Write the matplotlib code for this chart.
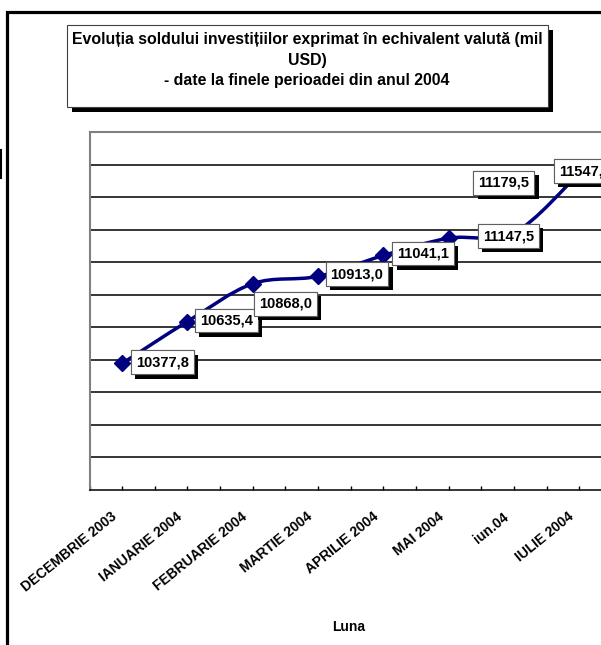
import matplotlib
matplotlib.use("Agg")
import matplotlib.pyplot as plt
import matplotlib.patheffects as pe
from matplotlib.path import Path
from matplotlib.patches import PathPatch, Rectangle
from matplotlib.lines import Line2D
from matplotlib.transforms import ScaledTranslation

plt.rcParams['font.family'] = ['Liberation Sans', 'DejaVu Sans']

months = ['DECEMBRIE 2003', 'IANUARIE 2004', 'FEBRUARIE 2004', 'MARTIE 2004',
          'APRILIE 2004', 'MAI 2004', 'iun.04', 'IULIE 2004']
values = [10377.8, 10635.4, 10868.0, 10913.0, 11041.1, 11147.5, 11179.5, 11547.2]
labels = ['10377,8', '10635,4', '10868,0', '10913,0', '11041,1', '11147,5', '11179,5', '11547,2']
# label box offsets from the point, in pixels
offsets = [(40, 1), (39, 1), (33, -20), (39, 2), (40, 2), (60, 2), (-10, 50), (6, 2)]

title = ("Evoluția soldului investițiilor exprimat în echivalent valută (mil\n"
         "USD)\n- date la finele perioadei din anul 2004")

W, H = 601, 645
fig = plt.figure(figsize=(W / 100, H / 100), dpi=100)
fig.patch.set_facecolor('white')


def px_rect(x, y, w, h, **kw):
    # rectangle given in pixels from the top-left corner
    return Rectangle((x / W, 1 - (y + h) / H), w / W, h / H, transform=fig.transFigure, **kw)


# outer chart frame (cut off at right and bottom)
fig.patches.append(px_rect(6.5, 12, 900, 900, fill=False, edgecolor='black', linewidth=2.3))
fig.lines.append(Line2D([0.5 / W, 0.5 / W], [1 - 150 / H, 1 - 178 / H], transform=fig.transFigure,
                        color='black', linewidth=1.5))

# title box with shadow
fig.patches.append(px_rect(72, 30, 481, 82, facecolor='black', edgecolor='none'))
fig.patches.append(px_rect(67, 25, 481, 82, facecolor='white', edgecolor='#404040', linewidth=0.8))
fig.text(307 / W, 1 - 60 / H, title, ha='center', va='center', fontsize=11.4,
         fontweight='bold', linespacing=1.45, multialignment='center')

x0, x1 = -0.5, 8.5
ax = fig.add_axes([89.5 / W, 1 - 490 / H, (x1 - x0) * 65.3 / W, (490 - 132) / H])
ax.set_xlim(x0, x1)
ax.set_ylim(9600, 11800)

for v in range(9800, 11800, 200):
    ax.axhline(v, color='black', linewidth=1.1, zorder=1)

for s in ['top', 'left', 'right']:
    ax.spines[s].set_color('#808080')
    ax.spines[s].set_linewidth(1.5)
ax.spines['bottom'].set_color('black')
ax.spines['bottom'].set_linewidth(1.1)

xs = list(range(len(values)))
pts = list(zip(xs, values))
verts = [pts[0]]
codes = [Path.MOVETO]
n = len(pts)
for i in range(n - 1):
    p0 = pts[i - 1] if i > 0 else pts[i]
    p1 = pts[i]
    p2 = pts[i + 1]
    p3 = pts[i + 2] if i + 2 < n else pts[i + 1]
    c1 = (p1[0] + (p2[0] - p0[0]) / 6, p1[1] + (p2[1] - p0[1]) / 6)
    c2 = (p2[0] - (p3[0] - p1[0]) / 6, p2[1] - (p3[1] - p1[1]) / 6)
    verts += [c1, c2, p2]
    codes += [Path.CURVE4] * 3
ax.add_patch(PathPatch(Path(verts, codes), fill=False, edgecolor='#000080',
                       linewidth=2.5, zorder=3, capstyle='round'))
ax.plot(xs, values, linestyle='none', marker='D', markersize=8.5, color='#000080', zorder=4)

for x, v, lab, (dx, dy) in zip(xs, values, labels, offsets):
    t = ax.annotate(lab, (x, v), xytext=(dx, dy), textcoords='offset pixels',
                    ha='center', va='center', fontsize=10.5, fontweight='bold', zorder=6,
                    bbox=dict(boxstyle='square,pad=0.34', facecolor='white',
                              edgecolor='#606060', linewidth=0.8))
    t.get_bbox_patch().set_path_effects([
        pe.withSimplePatchShadow(offset=(3, -3), shadow_rgbFace='black', alpha=1.0),
        pe.Normal()])

ax.set_yticks([])
ax.set_xticks(xs)
ax.set_xticks([x0 + 0.5 * k for k in range(int((x1 - x0) * 2) + 1)], minor=True)
ax.tick_params(axis='x', which='both', direction='in', length=3, width=1, color='black')
ax.set_xticklabels(months, rotation=39, ha='right', va='center', rotation_mode='anchor',
                   fontsize=10, fontweight='bold')
ax.tick_params(axis='x', which='major', pad=18)
shift = ScaledTranslation(-7 / 100, 0, fig.dpi_scale_trans)
for tl in ax.get_xticklabels():
    tl.set_transform(tl.get_transform() + shift)

fig.text(349 / W, 1 - 627 / H, 'Luna', ha='center', va='center', fontsize=10, fontweight='bold')

fig.savefig('out.png', dpi=100)
